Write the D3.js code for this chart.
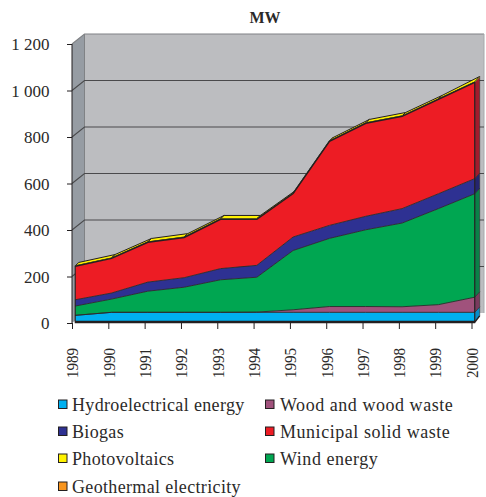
<!DOCTYPE html>
<html><head><meta charset="utf-8">
<script src="https://cdnjs.cloudflare.com/ajax/libs/d3/7.8.5/d3.min.js"></script>
<style>html,body{margin:0;padding:0;background:#fff}svg{display:block}
text{font-family:"Liberation Serif",serif;fill:#2b2a29}</style></head>
<body><svg id="c" width="486" height="497"></svg>
<script>
const years=[1989,1990,1991,1992,1993,1994,1995,1996,1997,1998,1999,2000];
const hydro=[26,39,39,39,39,39,39,39,39,39,39,39];
const wood=[0,0,0,0,0,1,11,25,25,24,33,65];
const wind=[40,57,91,108,140,150,255,293,330,360,413,445];
const biogas=[27,26,39,41,48,51,58,56,58,62,64,65];
const municipal=[144,149,171,173,212,198,187,361,400,397,406,414];
const photovoltaics=[2,2,2,2,2,2,2,2,2,2,2,2];
const geothermal=[0,0,0,0,0,0,0,0,0,0,0,0];
const yTicks=[0,200,400,600,800,1000,1200];
const gridTicks=[200,400,600,800,1000];
const names=["Hydroelectrical energy","Wood and wood waste","Wind energy","Biogas","Municipal solid waste","Photovoltaics","Geothermal electricity"];
const keys=["hydro","wood","wind","biogas","municipal","pv","geo"];
const colors=["#00B0F0","#A0527C","#00A651","#2E3192","#ED1C24","#FFF200","#F7941D"];
const sideColors=["#0A8CC8","#7A3A5E","#0A8048","#25256F","#A01C2C","#C8BE10","#C07010"];
const legendRows=[[0,1],[3,4],[5,2],[6]];
const table=years.map((y,i)=>({year:y,hydro:hydro[i],wood:wood[i],wind:wind[i],biogas:biogas[i],municipal:municipal[i],pv:photovoltaics[i],geo:geothermal[i]}));

const svg=d3.select("#c");
const x=d3.scalePoint().domain(years).range([72,471.5]);
const y=d3.scaleLinear().domain([0,1200]).range([323,44]);
const wallDx=12.5,wallDy=-10, frontDx=3.2, frontDy=-1.6, topDx=5, topDy=-5.5, faceDx=3.6, faceDy=-3.4;
const ink="#231f20";
const xF=d=>x(d)+frontDx, yF=v=>y(v)+frontDy;

// walls
svg.append("polygon").attr("points",[[x(1989)+wallDx,y(1200)+wallDy],[x(2000)+wallDx,y(1200)+wallDy],[x(2000)+wallDx,y(0)+wallDy],[x(1989)+wallDx,y(0)+wallDy]].join(" "))
  .attr("fill","#BCBDC0");
svg.append("polygon").attr("points",[[x(1989),y(1200)],[x(1989)+wallDx,y(1200)+wallDy],[x(1989)+wallDx,y(0)+wallDy],[x(1989),y(0)]].join(" "))
  .attr("fill","#969CA3");
svg.append("path").attr("d",`M${x(1989)},${y(1200)}L${x(1989)+wallDx},${y(1200)+wallDy}L${x(2000)+wallDx},${y(1200)+wallDy}`)
  .attr("fill","none").attr("stroke","#808285").attr("stroke-width",1.2);
svg.append("line").attr("x1",x(2000)+wallDx).attr("x2",x(2000)+wallDx).attr("y1",y(1200)+wallDy).attr("y2",y(0)+wallDy).attr("stroke","#a6a8ab").attr("stroke-width",1);
svg.append("line").attr("x1",x(1989)+wallDx).attr("x2",x(1989)+wallDx).attr("y1",y(1200)+wallDy).attr("y2",y(0)+wallDy).attr("stroke","#808285").attr("stroke-width",1);
gridTicks.forEach(t=>{
  svg.append("path").attr("d",`M${x(1989)},${y(t)}L${x(1989)+wallDx},${y(t)+wallDy}L${x(2000)+wallDx},${y(t)+wallDy}`)
    .attr("fill","none").attr("stroke","#4a4a4c").attr("stroke-width",1.1);
});
svg.append("line").attr("x1",x(1989)).attr("x2",x(1989)).attr("y1",y(1200)).attr("y2",y(0)).attr("stroke",ink).attr("stroke-width",1);

// axes
svg.append("g").attr("transform",`translate(${x(1989)},0)`)
  .call(d3.axisLeft(y).tickValues(yTicks).tickSize(5).tickPadding(16)
    .tickFormat(d=>d3.format(",")(d).replace(",", " ")))
  .call(g=>g.select(".domain").remove())
  .call(g=>g.selectAll("line").attr("stroke",ink).attr("stroke-width",1))
  .call(g=>g.selectAll("text").attr("font-size",17).attr("dy","0.33em").attr("x",-22.5));
svg.append("g").attr("transform",`translate(0,${y(0)})`)
  .call(d3.axisBottom(x).tickSize(6))
  .call(g=>g.select(".domain").remove())
  .call(g=>g.selectAll("line").attr("stroke",ink).attr("stroke-width",1))
  .call(g=>g.selectAll("text").attr("font-size",17.5).attr("transform","rotate(-90)").attr("text-anchor","start")
     .attr("x",-55).attr("y",0).attr("dy","0.33em").attr("dx",0)
     .attr("textLength",30).attr("lengthAdjust","spacingAndGlyphs"));

// stack
const series=d3.stack().keys(keys)(table);
const area=d3.area().x(d=>xF(d.data.year)).y0(d=>yF(d[0])).y1(d=>yF(d[1]));
const topSeries=series[series.length-1];

// top surface of the pile: one facet per year interval
const faces=d3.pairs(topSeries);
const sx=d=>d.data.year===2000?topDx:faceDx, sy=d=>d.data.year===2000?topDy:faceDy;
svg.append("g").selectAll("path").data(faces).join("path")
  .attr("d",([a,b])=>`M${xF(a.data.year)},${yF(a[1])}L${xF(b.data.year)},${yF(b[1])}L${xF(b.data.year)+sx(b)},${yF(b[1])+sy(b)}L${xF(a.data.year)+sx(a)},${yF(a[1])+sy(a)}Z`)
  .attr("fill",colors[5]).attr("stroke",ink).attr("stroke-width",1).attr("stroke-linejoin","round");

// right side faces
svg.append("g").selectAll("path").data(series).join("path")
  .attr("d",s=>{const d=s[s.length-1],X=xF(d.data.year);
    return `M${X},${yF(d[0])}L${X+topDx},${yF(d[0])+topDy}L${X+topDx},${yF(d[1])+topDy}L${X},${yF(d[1])}Z`;})
  .attr("fill",(s,i)=>sideColors[i]).attr("stroke",(s,i)=>i>=5?"none":"#2b2b2b").attr("stroke-width",.6);

// front faces
svg.append("g").selectAll("path").data(series).join("path")
  .attr("d",s=>area(s)).attr("fill",(s,i)=>colors[i]);
const line=d3.line().x(d=>xF(d.data.year)).y(d=>yF(d[1]));
svg.append("g").selectAll("path").data(series.slice(0,4)).join("path")
  .attr("d",s=>line(s)).attr("fill","none").attr("stroke","#2a2a2a").attr("stroke-width",.9);
svg.append("path").attr("d",line(series[4])).attr("fill","none").attr("stroke",ink).attr("stroke-width",1.5);
// front outline
svg.append("line").attr("x1",xF(1989)).attr("x2",xF(1989)).attr("y1",yF(0)).attr("y2",yF(topSeries[0][1])).attr("stroke",ink).attr("stroke-width",1.1);
svg.append("line").attr("x1",xF(2000)).attr("x2",xF(2000)).attr("y1",yF(0)).attr("y2",yF(topSeries[11][1])).attr("stroke",ink).attr("stroke-width",1.1);
svg.append("line").attr("x1",xF(1989)-.5).attr("x2",xF(2000)+.5).attr("y1",yF(0)+.6).attr("y2",yF(0)+.6).attr("stroke",ink).attr("stroke-width",2.6);
svg.append("line").attr("x1",xF(2000)).attr("x2",xF(2000)+topDx).attr("y1",yF(0)+1).attr("y2",yF(0)+topDy).attr("stroke",ink).attr("stroke-width",1.4);

// title
svg.append("text").attr("x",265).attr("y",23).attr("text-anchor","middle").attr("font-weight","bold").attr("font-size",16).text("MW");

// legend
const colX=[58,265],textX=[72,280],rowY=[405,432,459,487];
const spacing=[.34,.54];
legendRows.forEach((row,r)=>row.forEach((idx,c)=>{
  svg.append("rect").attr("x",colX[c]+.5).attr("y",rowY[r]-5).attr("width",8.5).attr("height",8.5)
    .attr("fill",colors[idx]).attr("stroke",ink).attr("stroke-width",1);
  svg.append("text").attr("x",textX[c]).attr("y",rowY[r]+6).attr("font-size",18).attr("letter-spacing",spacing[c]).text(names[idx]);
}));
</script></body></html>
